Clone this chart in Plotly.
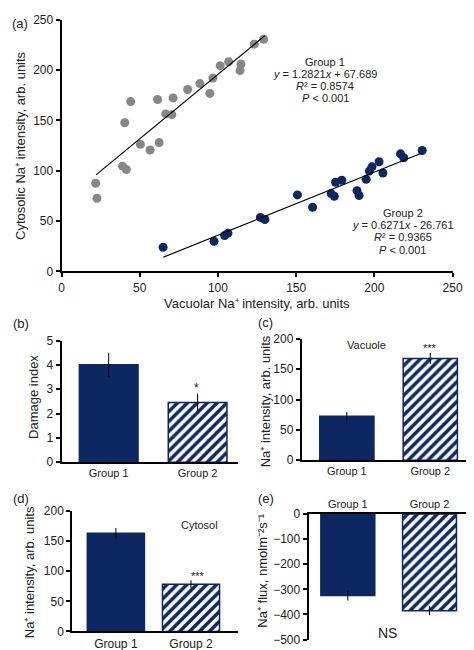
import plotly.graph_objects as go

W, H = 474, 650
def fx(p): return p / W
def fy(p): return 1 - p / H

# ---------------- data ----------------
g1_x = [21.8, 22.6, 39.0, 41.4, 40.4, 44.2, 50.4, 56.6, 62.4, 61.4, 66.6, 70.5, 71.3, 80.6,
        88.5, 94.8, 96.8, 101.4, 106.8, 114.7, 114.1, 123.2, 129.2]
g1_y = [87.6, 72.7, 104.6, 101.3, 147.7, 168.8, 126.3, 120.7, 128.0, 170.8, 156.5, 155.8, 172.4, 180.8,
        186.7, 176.9, 192.2, 204.5, 208.4, 206.1, 199.6, 225.9, 230.8]
g2_x = [64.9, 97.5, 104.3, 106.4, 127.1, 130.0, 150.8, 160.5, 172.4, 174.4, 175.2, 179.2, 188.9,
        190.2, 194.8, 196.8, 198.5, 203.0, 205.5, 216.7, 218.8, 230.6]
g2_y = [24.0, 29.9, 35.7, 38.0, 53.6, 51.6, 76.0, 63.7, 77.3, 74.7, 88.6, 90.6, 80.2,
        75.4, 91.5, 99.7, 103.9, 109.0, 97.8, 116.8, 112.9, 120.2]
g1_slope, g1_intercept = 1.2821, 67.689
g2_slope, g2_intercept = 0.6271, -26.761
g1_line_x = [22, 130]
g2_line_x = [65, 230]

groups = ["Group 1", "Group 2"]
damage = [4.0, 2.45]
damage_err = [0.5, 0.37]
vacuole = [72.6, 167.7]
vacuole_err = [7, 9]
cytosol = [163, 78.5]
cytosol_err = [9, 6.5]
flux = [-325, -385]
flux_err = [20, 18]

NAVY = "#0d2763"
GREY = "#878787"
FONT = "Liberation Sans, Arial, sans-serif"

fig = go.Figure()

# ---------- panel (a) ----------
fig.add_trace(go.Scatter(x=g1_x, y=g1_y, mode="markers",
                         marker=dict(color=GREY, size=9), xaxis="x", yaxis="y"))
fig.add_trace(go.Scatter(x=g2_x, y=g2_y, mode="markers",
                         marker=dict(color=NAVY, size=9), xaxis="x", yaxis="y"))
fig.add_trace(go.Scatter(x=g1_line_x, y=[g1_slope * v + g1_intercept for v in g1_line_x],
                         mode="lines", line=dict(color="black", width=1.2), xaxis="x", yaxis="y"))
fig.add_trace(go.Scatter(x=g2_line_x, y=[g2_slope * v + g2_intercept for v in g2_line_x],
                         mode="lines", line=dict(color="black", width=1.2), xaxis="x", yaxis="y"))

def bar_pair(vals, errs, xa, ya, width):
    # solid bar (Group 1)
    fig.add_trace(go.Bar(
        x=groups[:1], y=vals[:1], width=width,
        marker=dict(color=NAVY, line=dict(color=NAVY, width=1.5)),
        error_y=dict(type="data", array=errs[:1], visible=True, width=0, thickness=1, color="black"),
        xaxis=xa, yaxis=ya))
    # hatched bar (Group 2)
    fig.add_trace(go.Bar(
        x=groups[1:], y=vals[1:], width=width,
        marker=dict(color="white", line=dict(color=NAVY, width=1.5),
                    pattern=dict(shape="/", fgcolor=NAVY, bgcolor="white", fgopacity=1,
                                 fillmode="replace", size=7, solidity=0.5)),
        error_y=dict(type="data", array=errs[1:], visible=True, width=0, thickness=1, color="black"),
        xaxis=xa, yaxis=ya))

bar_pair(damage, damage_err, "x2", "y2", 0.66)
bar_pair(vacuole, vacuole_err, "x3", "y3", 0.65)
bar_pair(cytosol, cytosol_err, "x4", "y4", 0.76)
bar_pair(flux, flux_err, "x5", "y5", 0.66)

tickfont = dict(family=FONT, size=12, color="#222")

def yax(domain, rng, dtick, anchor, size=12):
    return dict(domain=domain, range=rng, dtick=dtick, anchor=anchor,
                showline=True, linecolor="black", linewidth=2, ticks="outside",
                ticklen=4, tickwidth=1.5, tickcolor="black", showgrid=False,
                zeroline=False, tickfont=dict(family=FONT, size=size, color="#222"))

def xcat(domain, rng, anchor, size=11, side="bottom"):
    return dict(domain=domain, range=rng, anchor=anchor, type="category",
                showline=True, linecolor="black", linewidth=2, ticks="",
                showgrid=False, zeroline=False, side=side,
                tickfont=dict(family=FONT, size=size, color="#222"))

fig.update_layout(
    width=W, height=H, autosize=False, showlegend=False, barmode="overlay",
    margin=dict(l=0, r=0, t=0, b=0),
    paper_bgcolor="white", plot_bgcolor="white",
    font=dict(family=FONT, color="#222"),
    xaxis=dict(domain=[fx(52), fx(454)], range=[0, 250], dtick=50, anchor="y",
               showline=True, linecolor="black", linewidth=2, ticks="outside",
               ticklen=4, tickwidth=1.5, tickcolor="black", showgrid=False,
               zeroline=False, tickfont=tickfont),
    yaxis=yax([fy(262), fy(5)], [0, 250], 50, "x"),
    xaxis2=xcat([fx(52), fx(233)], [-0.53, 1.45], "y2"),
    yaxis2=yax([fy(457), fy(332.7)], [0, 5], 1, "x2"),
    xaxis3=xcat([fx(299), 1.0], [-0.54, 1.50], "y3"),
    yaxis3=yax([fy(455), fy(331)], [0, 200], 50, "x3"),
    xaxis4=xcat([fx(63), fx(233)], [-0.58, 1.62], "y4", size=12),
    yaxis4=yax([fy(630), fy(507)], [0, 200], 50, "x4"),
    xaxis5=xcat([fx(306), 1.0], [-0.48, 1.52], "y5", side="top"),
    yaxis5=yax([fy(638.3), fy(510)], [-500, 0], 100, "x5"),
)

ann = []
def text(t, x, y, size=12, angle=0, xanchor="center"):
    ann.append(dict(text=t, x=fx(x), y=fy(y), xref="paper", yref="paper",
                    showarrow=False, textangle=angle, xanchor=xanchor, yanchor="middle",
                    font=dict(family=FONT, size=size, color="#222")))

# panel labels
text("(a)", 9, 9, 13)
text("(b)", 10, 315, 13)
text("(c)", 262, 314, 13)
text("(d)", 10, 494, 13)
text("(e)", 262, 494, 13)

# axis titles
text("Cytosolic Na⁺ intensity, arb. units", 9, 133, 13, -90)
text("Vacuolar Na⁺ intensity, arb. units", 253, 295, 13)
text("Damage index", 23, 390, 13, -90)
text("Na⁺ intensity, arb. units", 262, 395, 13, -90)
text("Na⁺ intensity, arb. units", 19, 569, 13, -90)
text("Na⁺ flux, nmolm⁻²s⁻¹", 259, 567, 13, -90)

# regression annotations
for i, t in enumerate(["Group 1", "<i>y</i> = 1.2821<i>x</i> + 67.689",
                       "<i>R</i>² = 0.8574", "<i>P</i> < 0.001"]):
    text(t, 323, 48 + i * 12.4, 11)
for i, t in enumerate(["Group 2", "<i>y</i> = 0.6271<i>x</i> - 26.761",
                       "<i>R</i>² = 0.9365", "<i>P</i> < 0.001"]):
    text(t, 403, 202 + i * 12.6, 11)

# in-panel texts
text("*", 191, 381, 12)
text("Vacuole", 366, 337, 11)
text("***", 431, 340, 11)
text("Cytosol", 194, 521, 11)
text("***", 192, 573, 11)
text("NS", 387, 632, 14)

fig.update_layout(annotations=ann)
fig.write_html("out.html")
